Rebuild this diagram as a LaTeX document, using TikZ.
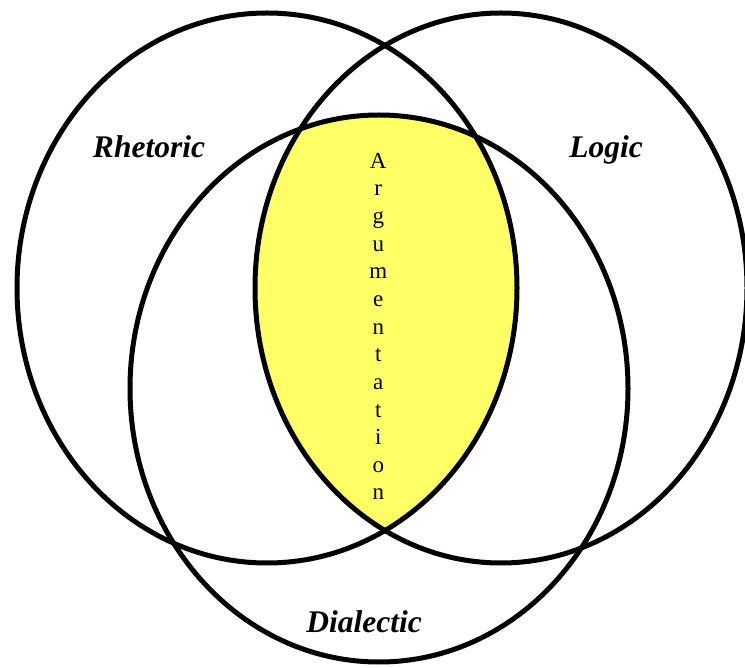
\documentclass[tikz,border=0pt]{standalone}
\usepackage{fontspec}
\setmainfont{Liberation Serif}
\definecolor{argyellow}{HTML}{FFFF66}
\tikzset{
  ring/.style={draw=black, line width=5pt},
  title/.style={font=\fontsize{31.5}{36}\selectfont\bfseries\itshape, anchor=base, inner sep=0pt},
  letter/.style={font=\fontsize{23}{26}\selectfont, anchor=base, inner sep=0pt}
}
\begin{document}
\begin{tikzpicture}[x=1pt,y=-1pt]
\useasboundingbox (0,0) rectangle (745,668);
\coordinate (crh) at (267,288);
\coordinate (clo) at (501,288);
\coordinate (cdi) at (379,388.5);
% yellow intersection
\begin{scope}
  \clip (crh) ellipse [x radius=250pt, y radius=275pt];
  \clip (clo) ellipse [x radius=246pt, y radius=275pt];
  \fill[argyellow] (cdi) ellipse [x radius=249pt, y radius=273.5pt];
\end{scope}
\draw[ring] (crh) ellipse [x radius=250pt, y radius=275pt];
\draw[ring] (clo) ellipse [x radius=246pt, y radius=275pt];
\draw[ring] (cdi) ellipse [x radius=249pt, y radius=273.5pt];
\node[title] (rhet) at (149,158) {Rhetoric};
\node[title] (logic) at (606,158) {Logic};
\node[title] (dial) at (364,632) {Dialectic};
\foreach \c [count=\i] in {A,r,g,u,m,e,n,t,a,t,i,o,n}
  \node[letter] (arg\i) at (378.3,{168.3+(\i-1)*27.64}) {\c};
\end{tikzpicture}
\end{document}
